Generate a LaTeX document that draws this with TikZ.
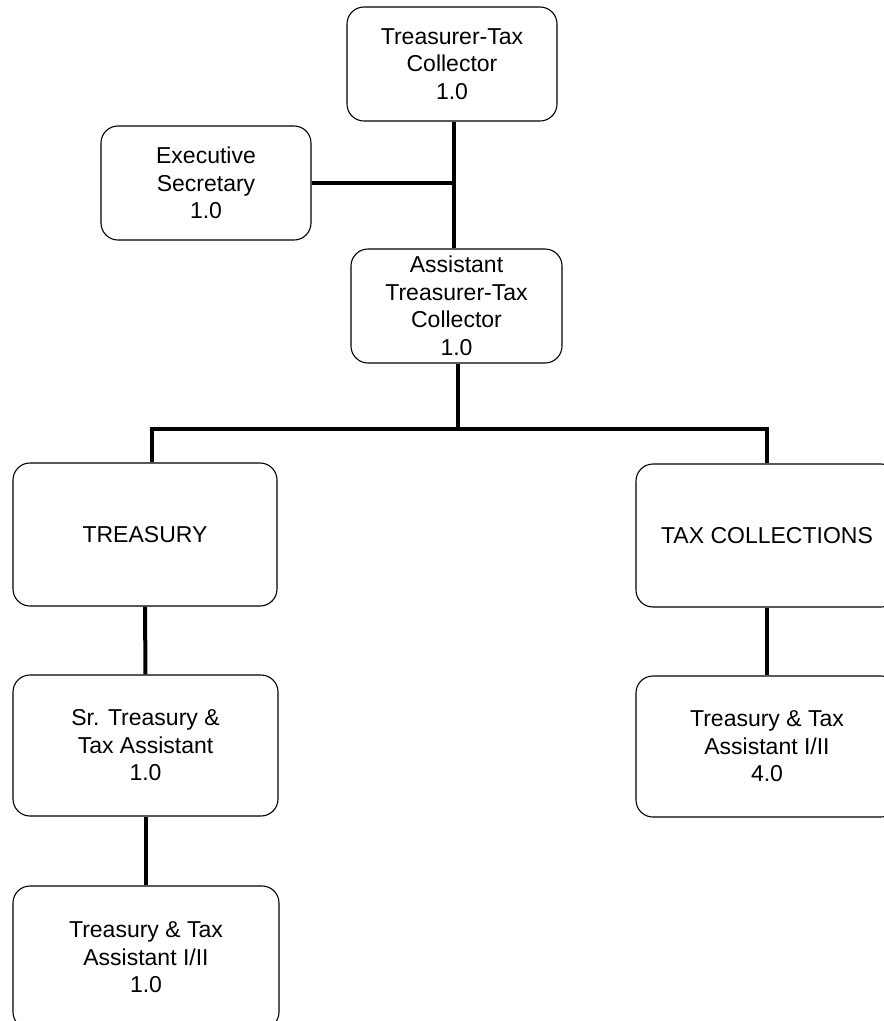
\documentclass[tikz,border=0pt]{standalone}
\usepackage{fontspec}
\setmainfont{Liberation Sans}
\begin{document}
\begin{tikzpicture}[x=1pt,y=-1pt,
  box/.style={draw=black, line width=1.1pt, rounded corners=17pt, align=center,
    inner sep=0pt, font=\fontsize{23}{27.5}\selectfont},
  conn/.style={draw=black, line width=4pt}]
\clip (0,0) rectangle (884,1021);
\fill[white] (0,0) rectangle (884,1021);
\node[box, minimum width=210pt, minimum height=114pt] (top) at (452,64) {Treasurer-Tax\\Collector\\1.0};
\node[box, minimum width=210pt, minimum height=114pt] (exec) at (206,183) {Executive\\Secretary\\1.0};
\node[box, minimum width=211pt, minimum height=114pt] (asst) at (456.5,306) {Assistant\\Treasurer-Tax\\Collector\\1.0};
\node[box, minimum width=264pt, minimum height=143pt] (treas) at (145,534.5) {TREASURY};
\node[box, minimum width=265pt, minimum height=141pt] (sr) at (145.5,745.5) {Sr. Treasury \&\\Tax Assistant\\1.0};
\node[box, minimum width=266pt, minimum height=143pt] (tta) at (146,957.5) {Treasury \& Tax\\Assistant I/II\\1.0};
\node[box, minimum width=262pt, minimum height=143pt] (tax) at (767,535.5) {TAX COLLECTIONS};
\node[box, minimum width=262pt, minimum height=141pt] (taxa) at (767,746.5) {Treasury \& Tax\\Assistant I/II\\4.0};
\coordinate (tv) at (454,0);
\coordinate (bl) at (152,429);
\coordinate (br) at (767,429);
\coordinate (av) at (458,0);
\draw[conn] (tv |- top.south) -- (tv |- asst.north);
\draw[conn] (exec.east) -- (exec.east -| tv);
\draw[conn] (av |- asst.south) -- (av |- bl);
\draw[conn] (bl |- treas.north) -- (bl) -- (br) -- (tax.north);
\draw[conn] (treas.south) -- (sr.north);
\draw[conn] (sr.south) -- (sr.south |- tta.north);
\draw[conn] (tax.south) -- (taxa.north);
\end{tikzpicture}
\end{document}
